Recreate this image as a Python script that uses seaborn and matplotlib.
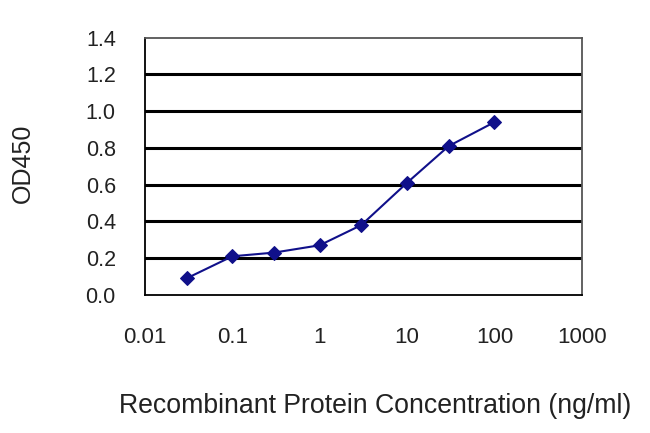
import numpy as np
import pandas as pd
import matplotlib
matplotlib.use("Agg")
import matplotlib.pyplot as plt
from matplotlib.ticker import FixedLocator, NullLocator, FixedFormatter
import seaborn as sns

sns.set_style("white")
plt.rcParams['font.family'] = ['Liberation Sans', 'DejaVu Sans']

# data
conc = [0.03, 0.1, 0.3, 1, 3, 10, 30, 100]
od450 = [0.09, 0.21, 0.23, 0.27, 0.38, 0.61, 0.81, 0.94]
xticks = [0.01, 0.1, 1, 10, 100, 1000]
xticklabels = ["0.01", "0.1", "1", "10", "100", "1000"]
yticks = [0.0, 0.2, 0.4, 0.6, 0.8, 1.0, 1.2, 1.4]

df = pd.DataFrame({"conc": conc, "od": od450})

fig = plt.figure(figsize=(6.5, 4.33), dpi=100)
ax = fig.add_axes([0.223, 0.319, 0.672, 0.594])

# horizontal grid lines
for v in yticks[1:-1]:
    ax.axhline(v, color="black", lw=2.2, zorder=1)

sns.lineplot(data=df, x="conc", y="od", ax=ax, color="#10108a", lw=1.5,
             marker="D", markersize=7, markeredgecolor="#10108a", zorder=3)

ax.set_xscale("log")
ax.set_xlim(0.01, 1000)
ax.set_ylim(0, 1.4)
ax.xaxis.set_major_locator(FixedLocator(xticks))
ax.xaxis.set_minor_locator(NullLocator())
ax.xaxis.set_major_formatter(FixedFormatter(xticklabels))
ax.set_yticks(yticks)
ax.set_yticklabels([f"{v:.1f}" for v in yticks])

for s in ax.spines.values():
    s.set_color("black")
    s.set_linewidth(1.3)
ax.spines["top"].set_color("#555555")
ax.spines["right"].set_color("#555555")

ax.tick_params(axis="x", direction="in", length=5, width=1.2, pad=23, labelsize=16, colors="#222222")
ax.tick_params(axis="y", direction="in", length=5, width=1.2, pad=21, labelsize=15.5, colors="#222222")

ax.set_xlabel("Recombinant Protein Concentration (ng/ml)", fontsize=19.2, color="#222222")
ax.xaxis.set_label_coords(0.526, -0.381)
ax.set_ylabel("OD450", fontsize=18, color="#222222")
ax.yaxis.set_label_coords(-0.252, 0.51)

fig.savefig("out.png", dpi=100, facecolor="white")
